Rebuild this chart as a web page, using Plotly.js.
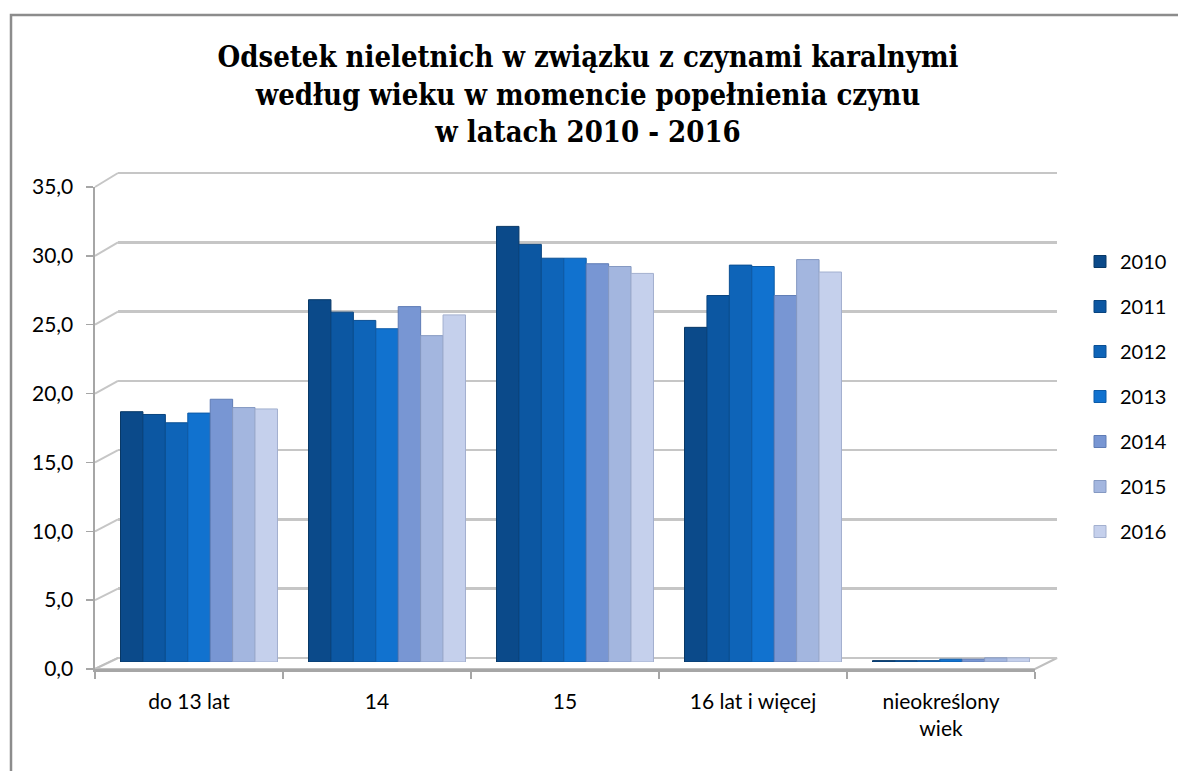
<!DOCTYPE html>
<html>
<head>
<meta charset="utf-8">
<script src="https://cdn.plot.ly/plotly-3.0.1.min.js"></script>
<style>
  html, body { margin: 0; padding: 0; background: #fff; }
  #chart { width: 1178px; height: 771px; }
</style>
</head>
<body>
<div id="chart"></div>
<script>
// Age groups (x axis)
const categories = ['do 13 lat', '14', '15', '16 lat i więcej', 'nieokreślony wiek'];
const years = ['2010', '2011', '2012', '2013', '2014', '2015', '2016'];

// Share of juveniles (%) per year, one value per age group
const v2010 = [18.1, 26.2, 31.5, 24.2, 0.1];
const v2011 = [17.9, 25.3, 30.2, 26.5, 0.1];
const v2012 = [17.3, 24.7, 29.2, 28.7, 0.1];
const v2013 = [18.0, 24.1, 29.2, 28.6, 0.2];
const v2014 = [19.0, 25.7, 28.8, 26.5, 0.2];
const v2015 = [18.4, 23.6, 28.6, 29.1, 0.3];
const v2016 = [18.3, 25.1, 28.1, 28.2, 0.3];

const yTicks = [0, 5, 10, 15, 20, 25, 30, 35];

const values = [v2010, v2011, v2012, v2013, v2014, v2015, v2016];
const colors = ['#0b4a8a', '#0c57a2', '#0e64b8', '#1172cf', '#7896d3', '#a3b6df', '#c5d0ec'];
const edges = ['#083866', '#09447f', '#0b4f93', '#0d5ba8', '#5f7cb5', '#8599c2', '#a3b0cf'];

const W = 1178, H = 771;
const px = x => x / W;
const py = y => 1 - y / H;

// pseudo-3D geometry (pixels): front axis plane, back wall, bar plane
const FRONT = {x0: 95, x1: 1035, y0: 669, y35: 187};
const BACK = {x0: 118, x1: 1057, y0: 658, y35: 173};
const BARS = {x0: 105, x1: 1045, y0: 662, y35: 178};
const backTop = 35.3; // a little headroom so the 35 gridline is drawn
const backTopPx = BACK.y0 - (BACK.y0 - BACK.y35) * backTop / 35;

const labelFont = {family: 'Lato, "Open Sans", sans-serif', size: 21, color: '#000'};
const axisGray = '#a6a6a6';

// empty traces so the back wall and the front axes get their own subplots
let traces = [
  {type: 'scatter', x: [], y: [], xaxis: 'x', yaxis: 'y', showlegend: false, hoverinfo: 'skip'},
  {type: 'scatter', x: [], y: [], xaxis: 'x2', yaxis: 'y2', showlegend: false, hoverinfo: 'skip'}
];

years.forEach((year, i) => {
  traces.push({
    type: 'bar',
    name: year,
    legendgroup: year,
    x: categories,
    y: values[i],
    xaxis: 'x3',
    yaxis: 'y3',
    marker: {color: colors[i], line: {width: 1, color: edges[i]}},
    hoverinfo: 'x+y+name'
  });
});

// side wall diagonals at each gridline
let shapes = yTicks.map(v => ({
  type: 'line', xref: 'paper', yref: 'paper', layer: 'below',
  x0: px(FRONT.x0), y0: py(FRONT.y0 - (FRONT.y0 - FRONT.y35) * v / 35),
  x1: px(BACK.x0), y1: py(BACK.y0 - (BACK.y0 - BACK.y35) * v / 35),
  line: {color: '#c6c6c6', width: 2}
}));

// floor
shapes.push({
  type: 'path', xref: 'paper', yref: 'paper', layer: 'below',
  path: `M ${px(FRONT.x0)} ${py(FRONT.y0)} L ${px(FRONT.x1)} ${py(FRONT.y0)} ` +
        `L ${px(BACK.x1)} ${py(BACK.y0)} L ${px(BACK.x0)} ${py(BACK.y0)} Z`,
  fillcolor: '#ffffff',
  line: {color: '#bfbfbf', width: 2}
});

// chart area border
shapes.push({
  type: 'rect', xref: 'paper', yref: 'paper', layer: 'above',
  x0: px(11), y0: py(15), x1: px(1190), y1: py(790),
  line: {color: '#8c8c8c', width: 2.5}
});

let layout = {
  width: W,
  height: H,
  margin: {l: 0, r: 0, t: 0, b: 0},
  paper_bgcolor: '#fff',
  plot_bgcolor: 'rgba(0,0,0,0)',
  separators: ', ',
  showlegend: true,
  barmode: 'group',
  bargap: 0.165,
  bargroupgap: 0,
  title: {
    text: 'Odsetek nieletnich w związku z czynami karalnymi<br>według wieku w momencie popełnienia czynu<br>w latach 2010 - 2016',
    font: {family: '"DejaVu Serif Condensed", "DejaVu Serif", serif', size: 29, color: '#000', weight: 'bold'},
    x: px(588), xanchor: 'center', xref: 'paper',
    y: py(67), yanchor: 'top', yref: 'container'
  },
  // back wall with gridlines
  xaxis: {
    domain: [px(BACK.x0), px(BACK.x1)], range: [0, 1], anchor: 'y',
    showgrid: false, zeroline: false, showline: false, showticklabels: false, ticks: ''
  },
  yaxis: {
    domain: [py(BACK.y0), py(backTopPx)], range: [0, backTop], anchor: 'x',
    tickvals: yTicks, showticklabels: false, ticks: '',
    showgrid: true, gridcolor: '#c6c6c6', gridwidth: 2.5,
    zeroline: true, zerolinecolor: '#c6c6c6', zerolinewidth: 2.5, showline: false
  },
  // front axes with ticks and labels
  xaxis2: {
    domain: [px(FRONT.x0), px(FRONT.x1)], range: [0, 5], anchor: 'y2',
    tickvals: categories.map((c, i) => i + 0.5),
    ticktext: categories.map(c => c.replace('nieokreślony ', 'nieokreślony<br>')),
    ticks: '', ticklabelstandoff: 12,
    minor: {tickvals: [0, 1, 2, 3, 4, 5], ticks: 'outside', ticklen: 7, tickwidth: 1.5, tickcolor: axisGray, showgrid: false},
    showgrid: false, zeroline: false,
    showline: true, linecolor: axisGray, linewidth: 2.5,
    tickfont: labelFont
  },
  yaxis2: {
    domain: [py(FRONT.y0), py(FRONT.y35)], range: [0, 35], anchor: 'x2',
    tickvals: yTicks, tickformat: '.1f',
    ticks: 'outside', ticklen: 7, tickwidth: 1.5, tickcolor: axisGray,
    ticklabelstandoff: 8,
    showgrid: false, zeroline: false,
    showline: true, linecolor: axisGray, linewidth: 2.5,
    tickfont: labelFont
  },
  // bar plane
  xaxis3: {
    domain: [px(BARS.x0), px(BARS.x1)], anchor: 'y3', type: 'category',
    range: [-0.5, 4.5], visible: false
  },
  yaxis3: {
    domain: [py(BARS.y0), py(BARS.y35)], range: [0, 35], anchor: 'x3', visible: false
  },
  legend: {
    x: px(1080), y: py(242), xanchor: 'left', yanchor: 'top',
    font: {family: 'Lato, "Open Sans", sans-serif', size: 20, color: '#000'},
    tracegroupgap: 16,
    bgcolor: 'rgba(0,0,0,0)'
  },
  shapes: shapes
};

Plotly.newPlot('chart', traces, layout, {displayModeBar: false, staticPlot: true});
</script>
</body>
</html>
